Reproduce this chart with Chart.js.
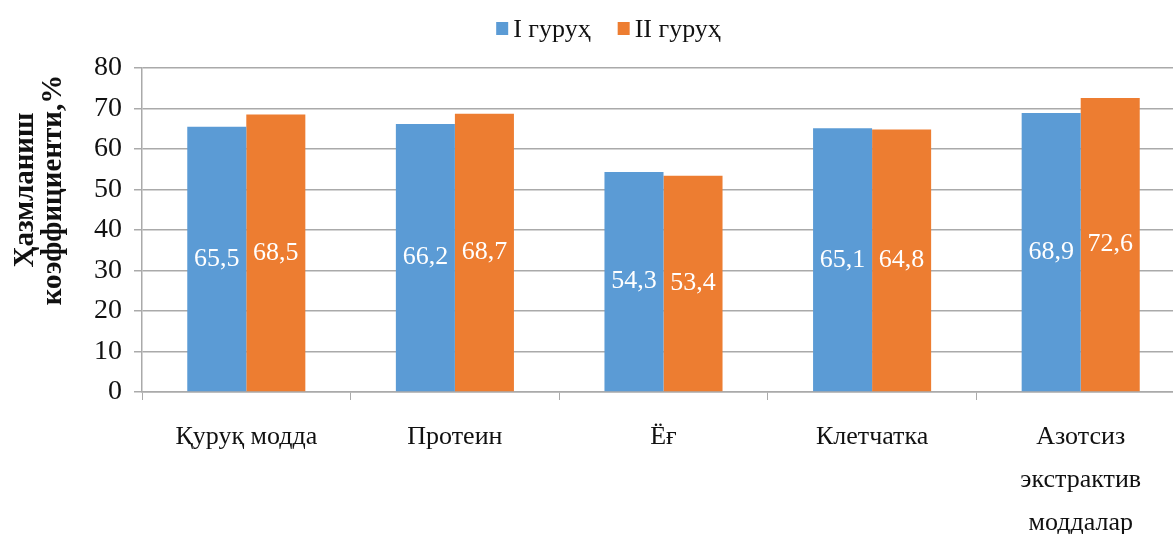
<!DOCTYPE html>
<html>
<head>
<meta charset="utf-8">
<script src="https://cdn.jsdelivr.net/npm/chart.js@4/dist/chart.umd.min.js"></script>
<style>
  html, body { margin: 0; padding: 0; background: #fff; overflow: hidden; }
  #wrap { position: absolute; left: 0; top: 0; width: 1217px; height: 534px; }
</style>
</head>
<body>
<div id="wrap"><canvas id="c" width="1217" height="534"></canvas></div>
<script>
// Categories and series
const categories = [
  'Қуруқ модда',
  'Протеин',
  'Ёғ',
  'Клетчатка',
  ['Азотсиз', 'экстрактив', 'моддалар']
];
const group1 = [65.5, 66.2, 54.3, 65.1, 68.9];
const group2 = [68.5, 68.7, 53.4, 64.8, 72.6];
const seriesNames = ['I гуруҳ', 'II гуруҳ'];
const seriesColors = ['#5B9BD5', '#ED7D31'];
const yTitle = ['Ҳазмланиш', 'коэффициенти,%'];
const yMin = 0, yMax = 80, yStep = 10;

const FONT = "'Liberation Serif', 'Times New Roman', serif";
const gridColor = '#aaaaaa';
const textColor = '#111';

// Value labels inside bars, decimal comma
const valueLabels = {
  id: 'valueLabels',
  afterDatasetsDraw(chart) {
    const ctx = chart.ctx;
    ctx.save();
    ctx.fillStyle = '#ffffff';
    ctx.font = '26px ' + FONT;
    ctx.textAlign = 'center';
    ctx.textBaseline = 'middle';
    chart.data.datasets.forEach((ds, i) => {
      chart.getDatasetMeta(i).data.forEach((bar, j) => {
        const v = ds.data[j];
        const y = (bar.y + bar.base) / 2;
        ctx.fillText(v.toFixed(1).replace('.', ','), bar.x, y);
      });
    });
    ctx.restore();
  }
};

// Legend row centred on the canvas, small square swatches
const topLegend = {
  id: 'topLegend',
  afterDraw(chart) {
    const ctx = chart.ctx;
    ctx.save();
    ctx.font = '26px ' + FONT;
    ctx.textBaseline = 'middle';
    ctx.textAlign = 'left';
    const box = 12, gap = 5, itemGap = 27, cy = 29;
    const widths = seriesNames.map(n => ctx.measureText(n).width);
    const total = widths.reduce((s, w) => s + box + gap + w, 0) + itemGap * (seriesNames.length - 1);
    let x = chart.width / 2 - total / 2;
    seriesNames.forEach((name, i) => {
      ctx.fillStyle = seriesColors[i];
      ctx.fillRect(x, cy - 7, box, 13);
      ctx.fillStyle = textColor;
      ctx.fillText(name, x + box + gap, cy + 1);
      x += box + gap + widths[i] + itemGap;
    });
    ctx.restore();
  }
};

// Rotated two-line axis title
const axisTitle = {
  id: 'axisTitle',
  afterDraw(chart) {
    const ctx = chart.ctx;
    const a = chart.chartArea;
    ctx.save();
    ctx.fillStyle = textColor;
    ctx.font = 'bold 29px ' + FONT;
    ctx.textAlign = 'center';
    ctx.textBaseline = 'middle';
    const cy = a.top + 122;
    yTitle.forEach((line, k) => {
      ctx.save();
      ctx.translate(a.left - 116 + k * 28, cy);
      ctx.rotate(-Math.PI / 2);
      ctx.fillText(line, 0, 0);
      ctx.restore();
    });
    ctx.restore();
  }
};

new Chart(document.getElementById('c'), {
  type: 'bar',
  data: {
    labels: categories,
    datasets: [
      { label: seriesNames[0], data: group1, backgroundColor: seriesColors[0] },
      { label: seriesNames[1], data: group2, backgroundColor: seriesColors[1] }
    ]
  },
  options: {
    responsive: false,
    animation: false,
    devicePixelRatio: 1,
    layout: { padding: { left: 82, right: 32, top: 68, bottom: 0 } },
    datasets: {
      bar: { categoryPercentage: 0.566, barPercentage: 1.0 }
    },
    plugins: {
      legend: { display: false },
      tooltip: { enabled: false }
    },
    scales: {
      x: {
        afterFit(axis) { axis.height = 142; },
        grid: { drawOnChartArea: false, color: gridColor, tickLength: 8, offset: true },
        border: { display: true, color: gridColor, width: 1.5 },
        ticks: {
          color: textColor,
          font: { family: FONT, size: 26, lineHeight: 1.65 },
          padding: 16,
          maxRotation: 0,
          autoSkip: false
        }
      },
      y: {
        min: yMin,
        max: yMax,
        grid: { color: gridColor, lineWidth: 1.5, tickLength: 8 },
        border: { display: true, color: gridColor, width: 1.5 },
        ticks: {
          stepSize: yStep,
          color: textColor,
          font: { family: FONT, size: 28 },
          padding: 12
        }
      }
    }
  },
  plugins: [valueLabels, topLegend, axisTitle]
});
</script>
</body>
</html>
